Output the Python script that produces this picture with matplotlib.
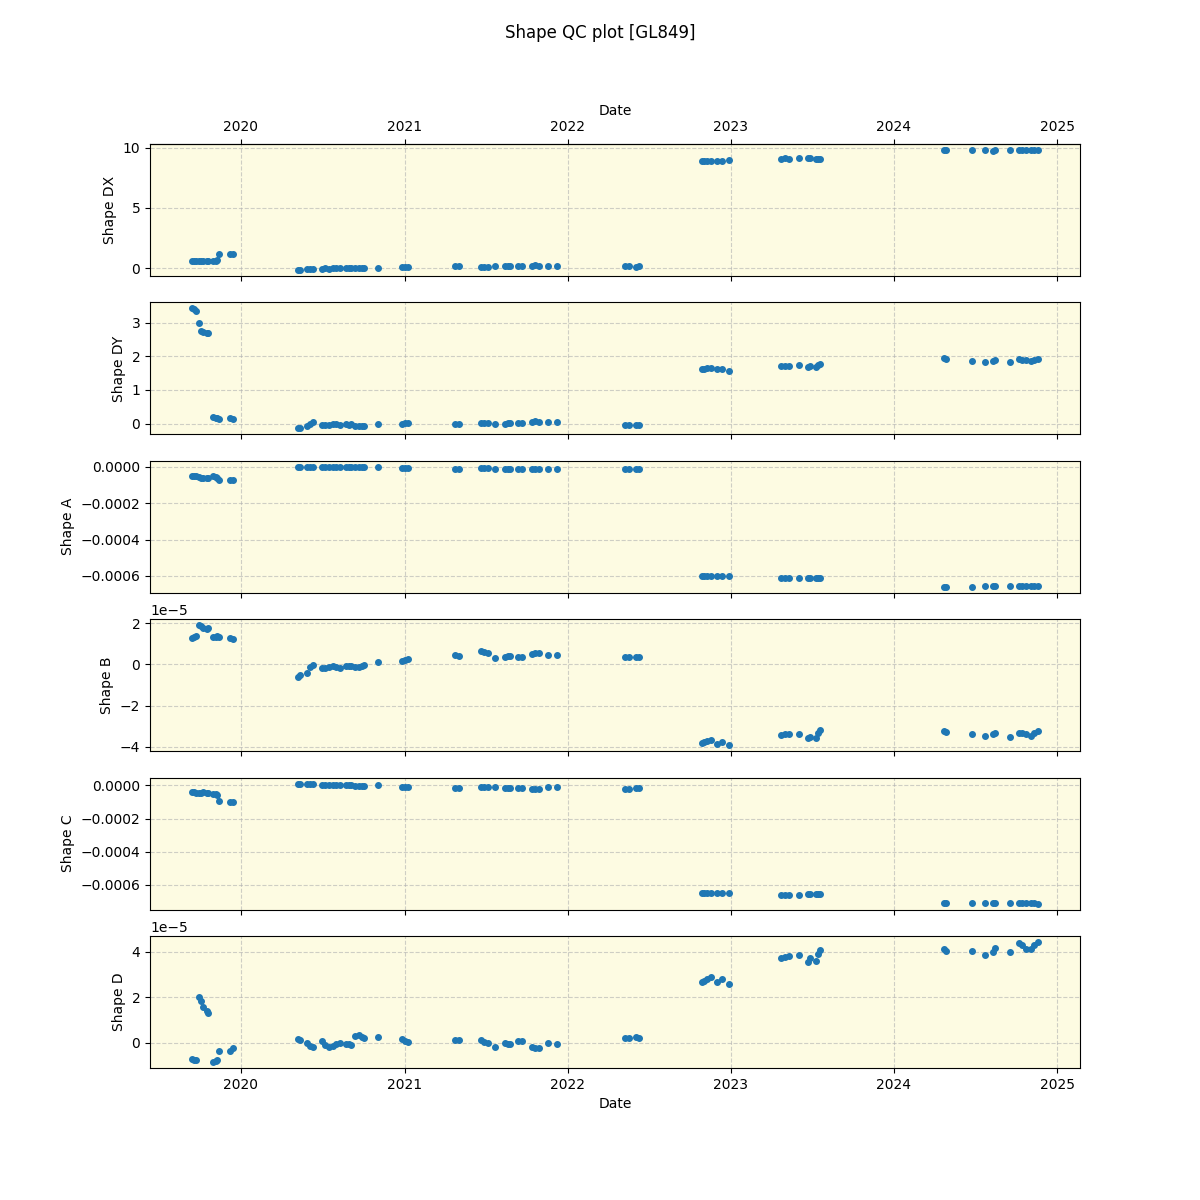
import numpy as np
import pandas as pd
import matplotlib
matplotlib.use("Agg")
import matplotlib.pyplot as plt
import matplotlib.dates as mdates

dates = [
    "2019-09-14", "2019-09-18", "2019-09-22", "2019-09-29", "2019-10-04",
    "2019-10-09", "2019-10-16", "2019-10-19", "2019-10-30", "2019-11-05",
    "2019-11-08", "2019-11-12", "2019-12-08", "2019-12-14",
    "2020-05-08", "2020-05-13",
    "2020-05-28", "2020-06-04", "2020-06-10",
    "2020-06-30", "2020-07-08", "2020-07-15",
    "2020-07-24", "2020-08-01", "2020-08-09",
    "2020-08-22", "2020-08-29", "2020-09-04",
    "2020-09-12", "2020-09-20", "2020-09-27", "2020-10-03",
    "2020-11-03",
    "2020-12-26", "2021-01-02", "2021-01-08",
    "2021-04-25", "2021-05-03",
    "2021-06-21", "2021-06-28", "2021-07-06",
    "2021-07-22",
    "2021-08-13", "2021-08-20", "2021-08-26",
    "2021-09-13", "2021-09-20",
    "2021-10-14", "2021-10-21", "2021-10-28",
    "2021-11-19", "2021-12-09",
    "2022-05-10", "2022-05-18",
    "2022-06-03", "2022-06-10",
    "2022-10-28", "2022-11-03", "2022-11-10", "2022-11-18",
    "2022-12-02", "2022-12-12", "2022-12-29",
    "2023-04-24", "2023-05-02", "2023-05-11",
    "2023-06-03", "2023-06-24", "2023-06-28",
    "2023-07-10", "2023-07-15", "2023-07-20",
    "2024-04-22", "2024-04-27",
    "2024-06-23", "2024-07-22",
    "2024-08-10", "2024-08-15",
    "2024-09-18",
    "2024-10-07", "2024-10-13", "2024-10-22",
    "2024-11-03", "2024-11-10", "2024-11-18",
]

shape_dx = [
    0.58, 0.58, 0.60, 0.58, 0.62, 0.60, 0.58, 0.60, 0.60, 0.62, 0.65, 1.17, 1.20, 1.20,
    -0.15, -0.12,
    -0.08, -0.06, -0.05,
    -0.03, -0.02, -0.03,
    0.0, 0.0, 0.0,
    0.0, 0.0, 0.0,
    0.0, 0.0, 0.0, 0.0,
    0.0,
    0.07, 0.08, 0.08,
    0.15, 0.15,
    0.08, 0.10, 0.08,
    0.15,
    0.15, 0.15, 0.15,
    0.15, 0.15,
    0.22, 0.24, 0.22,
    0.15, 0.15,
    0.15, 0.15,
    0.10, 0.15,
    8.88, 8.88, 8.88, 8.88,
    8.90, 8.90, 8.95,
    9.05, 9.10, 9.08,
    9.14, 9.10, 9.12,
    9.05, 9.05, 9.05,
    9.80, 9.80,
    9.80, 9.78,
    9.70, 9.80,
    9.80,
    9.80, 9.80, 9.80,
    9.80, 9.80, 9.80,
]

shape_dy = [
    3.42, 3.40, 3.35, 3.00, 2.75, 2.72, 2.70, 2.68, 0.20, 0.18, 0.17, 0.15, 0.17, 0.15,
    -0.14, -0.12,
    -0.06, 0.00, 0.04,
    -0.05, -0.03, -0.04,
    -0.01, -0.02, -0.04,
    -0.02, -0.03, -0.02,
    -0.06, -0.07, -0.08, -0.07,
    -0.01,
    0.00, 0.02, 0.03,
    0.00, 0.00,
    0.02, 0.03, 0.02,
    0.00,
    0.00, 0.01, 0.01,
    0.01, 0.01,
    0.04, 0.07, 0.06,
    0.04, 0.05,
    -0.03, -0.03,
    -0.04, -0.04,
    1.62, 1.63, 1.64, 1.65,
    1.61, 1.62, 1.57,
    1.71, 1.71, 1.71,
    1.73, 1.69, 1.72,
    1.69, 1.73, 1.78,
    1.95, 1.91,
    1.86, 1.83,
    1.86, 1.88,
    1.84,
    1.92, 1.90, 1.88,
    1.87, 1.89, 1.91,
]

# Shape A, units of 1e-4
shape_a = [
    -0.48, -0.50, -0.52, -0.55, -0.60, -0.62, -0.62, -0.60, -0.50, -0.55, -0.62, -0.72, -0.72, -0.72,
    -0.01, 0.0,
    0.0, 0.0, 0.0,
    0.0, 0.0, 0.0,
    0.0, 0.0, 0.0,
    0.0, 0.0, 0.0,
    -0.01, -0.01, -0.01, -0.01,
    0.0,
    -0.07, -0.07, -0.07,
    -0.12, -0.12,
    -0.07, -0.07, -0.07,
    -0.10,
    -0.10, -0.10, -0.10,
    -0.10, -0.10,
    -0.10, -0.10, -0.10,
    -0.10, -0.10,
    -0.11, -0.11,
    -0.11, -0.11,
    -6.00, -6.00, -6.00, -6.00,
    -6.02, -6.02, -6.02,
    -6.11, -6.11, -6.11,
    -6.11, -6.11, -6.11,
    -6.11, -6.11, -6.11,
    -6.60, -6.60,
    -6.60, -6.55,
    -6.55, -6.55,
    -6.55,
    -6.55, -6.55, -6.55,
    -6.55, -6.55, -6.55,
]

# Shape B, units of 1e-5
shape_b = [
    1.30, 1.35, 1.40, 1.90, 1.85, 1.75, 1.72, 1.75, 1.35, 1.35, 1.38, 1.35, 1.27, 1.25,
    -0.60, -0.52,
    -0.40, -0.15, -0.02,
    -0.20, -0.18, -0.15,
    -0.10, -0.15, -0.20,
    -0.10, -0.08, -0.06,
    -0.15, -0.12, -0.08, -0.03,
    0.11,
    0.15, 0.22, 0.28,
    0.45, 0.42,
    0.65, 0.62, 0.57,
    0.29,
    0.38, 0.40, 0.42,
    0.37, 0.37,
    0.52, 0.56, 0.54,
    0.44, 0.47,
    0.37, 0.37,
    0.35, 0.38,
    -3.80, -3.75, -3.72, -3.68,
    -3.85, -3.78, -3.92,
    -3.43, -3.40, -3.40,
    -3.37, -3.55, -3.50,
    -3.55, -3.35, -3.17,
    -3.25, -3.30,
    -3.37, -3.46,
    -3.40, -3.33,
    -3.50,
    -3.33, -3.35, -3.37,
    -3.45, -3.35, -3.25,
]

# Shape C, units of 1e-4
shape_c = [
    -0.40, -0.42, -0.45, -0.48, -0.45, -0.43, -0.45, -0.44, -0.55, -0.55, -0.58, -0.95, -1.00, -1.02,
    0.10, 0.10,
    0.06, 0.06, 0.05,
    0.02, 0.02, 0.02,
    0.0, 0.0, 0.0,
    0.0, 0.0, 0.0,
    -0.02, -0.02, -0.02, -0.02,
    0.04,
    -0.10, -0.10, -0.10,
    -0.14, -0.14,
    -0.08, -0.08, -0.08,
    -0.08,
    -0.14, -0.14, -0.14,
    -0.14, -0.14,
    -0.20, -0.20, -0.20,
    -0.12, -0.12,
    -0.20, -0.20,
    -0.16, -0.16,
    -6.46, -6.46, -6.46, -6.46,
    -6.46, -6.46, -6.46,
    -6.60, -6.60, -6.60,
    -6.60, -6.54, -6.54,
    -6.52, -6.52, -6.52,
    -7.08, -7.08,
    -7.08, -7.08,
    -7.08, -7.08,
    -7.08,
    -7.08, -7.08, -7.08,
    -7.08, -7.10, -7.12,
]

# Shape D, units of 1e-5
shape_d = [
    -0.70, -0.75, -0.78, 2.00, 1.85, 1.55, 1.40, 1.30, -0.85, -0.80, -0.75, -0.35, -0.35, -0.25,
    0.15, 0.10,
    -0.03, -0.15, -0.20,
    0.08, -0.10, -0.18,
    -0.13, -0.05, 0.0,
    -0.06, -0.05, -0.08,
    0.30, 0.32, 0.25, 0.20,
    0.27,
    0.15, 0.08, 0.03,
    0.10, 0.10,
    0.12, 0.05, -0.02,
    -0.18,
    -0.03, -0.05, -0.07,
    0.06, 0.08,
    -0.18, -0.22, -0.25,
    0.0, -0.04,
    0.20, 0.22,
    0.27, 0.20,
    2.65, 2.72, 2.80, 2.87,
    2.65, 2.80, 2.60,
    3.72, 3.78, 3.80,
    3.87, 3.54, 3.74,
    3.60, 3.90, 4.06,
    4.14, 4.03,
    4.02, 3.84,
    3.99, 4.17,
    3.99,
    4.40, 4.30, 4.14,
    4.14, 4.30, 4.43,
]

t = pd.to_datetime(dates)
series = [
    ("Shape DX", np.array(shape_dx)),
    ("Shape DY", np.array(shape_dy)),
    ("Shape A", np.array(shape_a) * 1e-4),
    ("Shape B", np.array(shape_b) * 1e-5),
    ("Shape C", np.array(shape_c) * 1e-4),
    ("Shape D", np.array(shape_d) * 1e-5),
]

fig, axes = plt.subplots(6, 1, figsize=(12, 12), dpi=100, sharex=True)
fig.suptitle("Shape QC plot [GL849]", fontsize=12)

for ax, (name, vals) in zip(axes, series):
    ax.plot(t, vals, "o", ls="none", ms=4, color="#1f77b4")
    ax.set_ylabel(name)
    ax.set_facecolor("#fdfbe2")
    ax.grid(True, linestyle="--", alpha=0.6)
    ax.xaxis.set_major_locator(mdates.YearLocator())
    ax.xaxis.set_major_formatter(mdates.DateFormatter("%Y"))

axes[-1].set_xlabel("Date")

top = axes[0].secondary_xaxis("top")
top.xaxis.set_major_locator(mdates.YearLocator())
top.xaxis.set_major_formatter(mdates.DateFormatter("%Y"))
top.set_xlabel("Date")

fig.savefig("out.png")
